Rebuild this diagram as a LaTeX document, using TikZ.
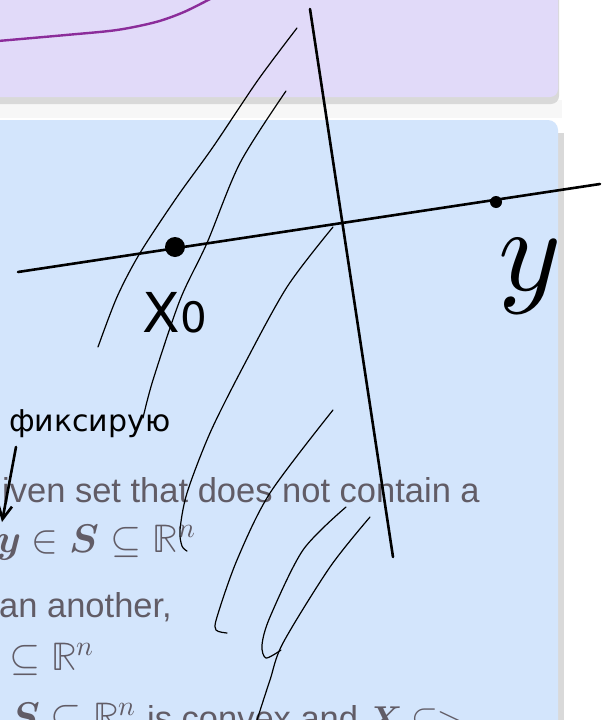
\documentclass[tikz,border=0pt]{standalone}
\usepackage{amsmath}
\usepackage{fontspec}
\usepackage{unicode-math}
\setmainfont{Liberation Sans}
\setmathfont{Latin Modern Math}
\newfontfamily\inkfont{DejaVu Sans}
\usetikzlibrary{arrows.meta}
\definecolor{cardpurple}{HTML}{E1DAF9}
\definecolor{cardblue}{HTML}{D3E5FC}
\definecolor{notegray}{HTML}{615C66}
\definecolor{inkpurple}{HTML}{8B2C9A}
\definecolor{cardshade}{HTML}{D9D9D9}

\begin{document}
\begin{tikzpicture}[x=1pt,y=-1pt,
  txt/.style={inner sep=0pt,anchor=base west,text=notegray,font=\fontsize{34.5}{40}\selectfont},
  mth/.style={txt,font=\fontsize{40}{44}\selectfont},
  hand/.style={inner sep=0pt,anchor=base west,font=\inkfont},
  pen/.style={line width=2.6pt,line cap=round},
  thin/.style={line width=1.2pt,line cap=round,line join=round}]
\useasboundingbox (0,0) rectangle (613,720);
\clip (0,0) rectangle (613,720);
\fill[white] (0,0) rectangle (613,720);
\fill[black!3] (-20,100) rectangle (562,118);
\fill[cardshade,rounded corners=8] (-20,-20) rectangle (559,104);
\fill[cardpurple,rounded corners=8] (-20,-20) rectangle (558,97);
\fill[cardshade] (553,133) rectangle (564,740);
\fill[cardblue,rounded corners=10] (-20,120) rectangle (558,740);
\draw[inkpurple,line width=2.4pt] plot[smooth] coordinates {(-2,41) (66,35) (117,30) (156,22) (184,12) (212,-2)};

\node[txt] (t1) at (2,502) {iven set that does not contain a};
\node[mth] (m1) at (-4,552) {$\symbfit{y}\in\symbfit{S}\subseteq\mathbb{R}^n$};
\node[txt] (t2) at (-1,617) {an another,};
\node[mth] (m2) at (9,670) {$\subseteq\mathbb{R}^n$};
\node[mth] (m3) at (10,730) {$\symbfit{S}\subseteq\mathbb{R}^n$ \fontsize{34.5}{40}\selectfont is convex and $\symbfit{X}\subseteq>$};

\coordinate (top) at (310,9);
\coordinate (bottom) at (393,557);
\coordinate (left) at (18,272);
\coordinate (right) at (600,184);
\draw[pen] (top) -- (bottom);
\draw[pen] (left) -- (right);
\node[circle,fill,inner sep=0pt,minimum size=20pt] (x0) at (175,247) {};
\node[circle,fill,inner sep=0pt,minimum size=12pt] (y) at (496,202) {};
\node[hand,font=\inkfont\fontsize{55}{55}\selectfont] (x0label) at (142,332) {X\kern1pt{\fontsize{42}{42}\selectfont 0}};
\node[hand,font=\fontsize{120}{120}\selectfont] (ylabel) at (498,290) {$y$};
\node[hand,font=\inkfont\fontsize{30}{30}\selectfont] (fix) at (9,431) {фиксирую};
\coordinate (tip) at (2,522);
\draw[pen,-{Straight Barb[length=14pt,width=14pt]}] (16,447) -- (tip);

\draw[thin] plot[smooth] coordinates {(297,28) (258,80) (213,147) (177,197) (140,253) (117,297) (98,347)};
\draw[thin] plot[smooth] coordinates {(286,91) (240,163) (207,243) (180,300) (153,380) (143,418)};
\draw[thin] plot[smooth] coordinates {(333,227) (287,287) (243,367) (210,433) (187,493) (180,530) (182,546) (187,551)};
\draw[thin] plot[smooth] coordinates {(333,410) (270,493) (237,560) (217,617) (216,630) (227,633)};
\draw[thin] plot[smooth] coordinates {(346,507) (303,550) (270,617) (262,645) (266,658) (281,650)};
\draw[thin] plot[smooth] coordinates {(370,517) (330,567) (283,643) (270,680) (257,720)};
\end{tikzpicture}
\end{document}
